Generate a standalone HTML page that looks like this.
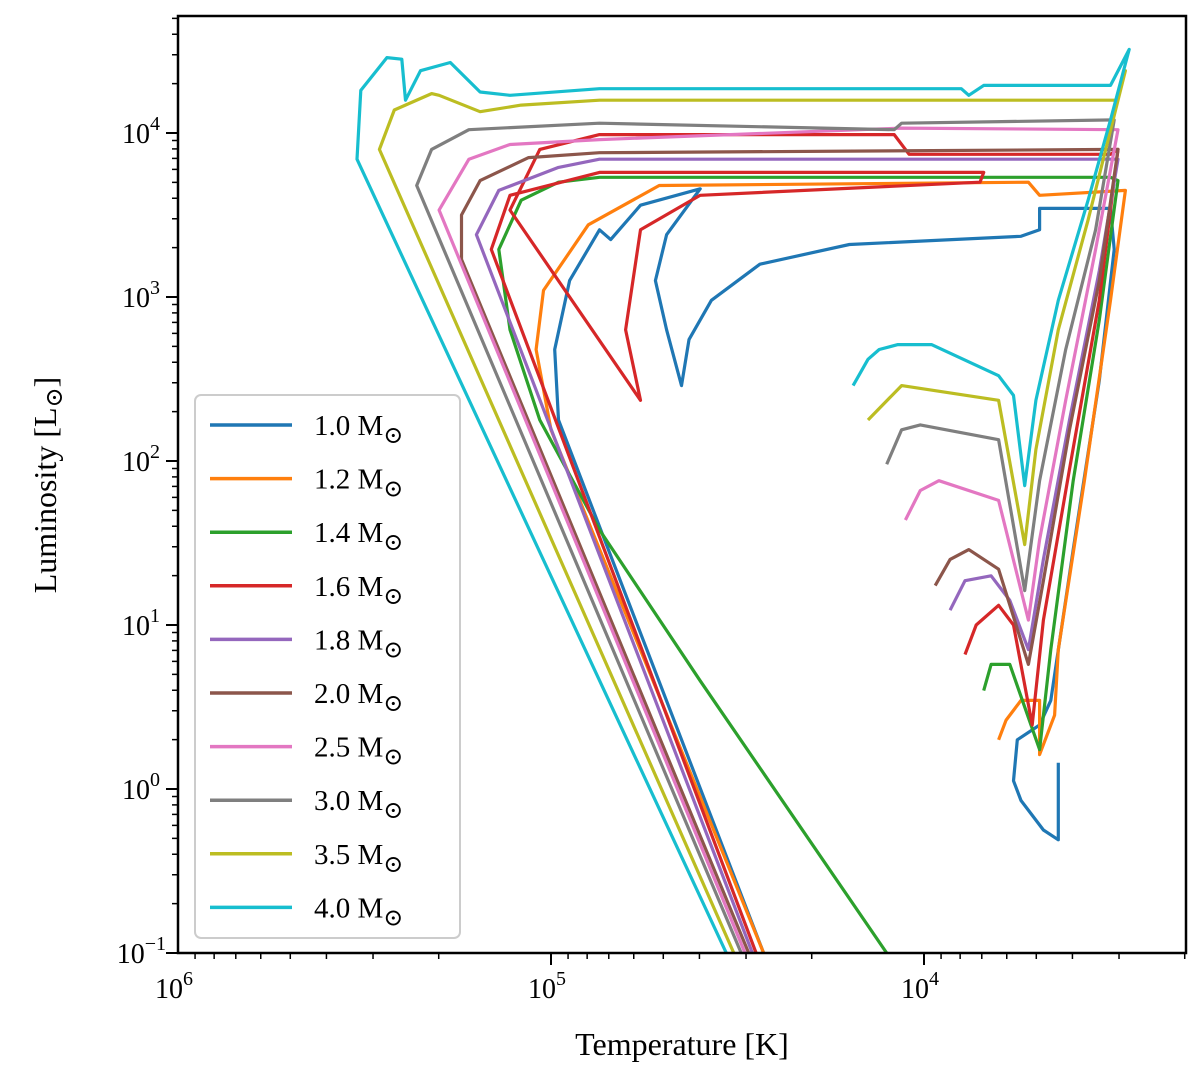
<!DOCTYPE html>
<html><head><meta charset="utf-8"><style>
body{margin:0;background:#fff}
svg text{font-family:"Liberation Serif","DejaVu Serif",serif;fill:#000}
</style></head><body>
<svg id="chart" width="1200" height="1083" viewBox="0 0 1200 1083" xmlns="http://www.w3.org/2000/svg">
<rect x="0" y="0" width="1200" height="1083" fill="#fff"/>
<g id="tracks"></g>
<g id="axes"></g>
<g id="legend"></g>
</svg>
<script>
const masses=["1.0","1.2","1.4","1.6","1.8","2.0","2.5","3.0","3.5","4.0"];
const colors=["#1f77b4","#ff7f0e","#2ca02c","#d62728","#9467bd","#8c564b","#e377c2","#7f7f7f","#bcbd22","#17becf"];
const xTicks=[6,5,4];
const yTicks=[-1,0,1,2,3,4];
// logT / logL per track
const T10=[3.64,3.64,3.68,3.74,3.76,3.75,3.69,3.66,3.60,3.53,3.49,3.50,3.69,3.69,3.74,4.20,4.44,4.57,4.63,4.65,4.69,4.72,4.69,4.60,4.76,4.84,4.87,4.95,4.99,4.98,4.43];
const L10=[0.16,-0.31,-0.25,-0.07,0.05,0.30,0.39,0.54,1.46,2.49,3.29,3.54,3.54,3.41,3.37,3.32,3.20,2.98,2.74,2.46,2.80,3.10,3.38,3.66,3.56,3.35,3.41,3.10,2.68,2.25,-1];
const T12=[3.80,3.78,3.74,3.69,3.69,3.65,3.64,3.57,3.50,3.46,3.69,3.72,4.71,4.90,5.02,5.04,5.00,4.43];
const L12=[0.30,0.42,0.54,0.54,0.21,0.45,0.85,1.88,2.98,3.65,3.62,3.70,3.68,3.44,3.04,2.68,2.19,-1];
const T14=[3.84,3.82,3.77,3.69,3.66,3.60,3.53,3.48,3.50,4.87,4.98,5.08,5.14,5.11,5.03,4.87,4.60,4.10];
const L14=[0.60,0.76,0.76,0.24,0.85,1.88,2.86,3.71,3.73,3.73,3.70,3.59,3.29,2.80,2.25,1.58,0.66,-1];
const T16=[3.89,3.86,3.80,3.76,3.71,3.68,3.61,3.53,3.48,3.50,4.04,4.08,4.87,5.03,5.11,4.76,4.80,4.76,4.60,3.85,3.84,4.87,5.11,5.16,4.45];
const L16=[0.82,1.00,1.12,1.00,0.39,1.03,1.95,2.98,3.90,3.87,3.87,3.99,3.99,3.90,3.53,2.37,2.80,3.41,3.62,3.70,3.76,3.76,3.62,3.29,-1];
const T18=[3.93,3.89,3.82,3.77,3.72,3.68,3.61,3.53,3.48,4.87,4.98,5.14,5.20,4.46];
const L18=[1.09,1.27,1.30,1.15,0.85,1.40,2.25,3.16,3.84,3.84,3.79,3.65,3.38,-1];
const T20=[3.97,3.93,3.88,3.80,3.72,3.68,3.61,3.53,3.48,4.87,5.06,5.19,5.24,5.24,4.47];
const L20=[1.24,1.40,1.46,1.34,0.76,1.27,2.19,3.10,3.90,3.88,3.85,3.71,3.50,3.23,-1];
const T25=[4.05,4.01,3.96,3.80,3.72,3.69,3.62,3.54,3.48,4.06,4.87,5.11,5.22,5.30,4.48];
const L25=[1.64,1.82,1.88,1.76,1.03,1.52,2.37,3.29,4.02,4.03,3.96,3.93,3.84,3.53,-1];
const T30=[4.10,4.06,4.01,3.80,3.73,3.69,3.62,3.54,3.49,4.06,4.08,4.87,5.22,5.32,5.36,4.49];
const L30=[1.98,2.19,2.22,2.13,1.21,1.88,2.68,3.41,4.08,4.06,4.02,4.06,4.02,3.90,3.68,-1];
const T35=[4.15,4.06,3.80,3.73,3.70,3.64,3.56,3.46,3.48,4.87,5.08,5.19,5.30,5.32,5.42,5.46,4.51];
const L35=[2.25,2.46,2.37,1.49,2.07,2.80,3.47,4.38,4.20,4.20,4.17,4.13,4.23,4.24,4.14,3.90,-1];
const T40=[4.19,4.15,4.12,4.07,3.98,3.80,3.76,3.73,3.70,3.64,3.56,3.50,3.45,3.50,3.84,3.88,3.90,4.87,5.11,5.19,5.27,5.35,5.39,5.40,5.44,5.51,5.52,4.53];
const L40=[2.46,2.62,2.68,2.71,2.71,2.52,2.40,1.85,2.37,2.98,3.59,4.08,4.51,4.29,4.29,4.23,4.27,4.27,4.23,4.25,4.43,4.38,4.20,4.45,4.46,4.26,3.84,-1];
const tracksT=[T10,T12,T14,T16,T18,T20,T25,T30,T35,T40];
const tracksL=[L10,L12,L14,L16,L18,L20,L25,L30,L35,L40];

const NS="http://www.w3.org/2000/svg";
const X0=178,X1=1186,Y0=16,Y1=953;
const tMax=6,tMin=6-(X1-X0)/373, lMin=-1, lMax=-1+(Y1-Y0)/164;
function sx(t){return X0+(tMax-t)/(tMax-tMin)*(X1-X0);}
function sy(l){return Y1-(l-lMin)/(lMax-lMin)*(Y1-Y0);}
function mk(tag,attrs,parent){const e=document.createElementNS(NS,tag);for(const k in attrs)e.setAttribute(k,attrs[k]);parent.appendChild(e);return e;}

const defs=mk('defs',{},document.getElementById('chart'));
const cp=mk('clipPath',{id:'clip'},defs);
mk('rect',{x:X0,y:Y0,width:X1-X0,height:Y1-Y0},cp);
const tg=document.getElementById('tracks');
tg.setAttribute('clip-path','url(#clip)');
tracksT.forEach((T,i)=>{
  const L=tracksL[i];
  const d=T.map((t,j)=>(j?'L':'M')+sx(t).toFixed(1)+','+sy(L[j]).toFixed(1)).join(' ');
  const p=mk('path',{d:d,fill:'none',stroke:colors[i],'stroke-width':3.2,'stroke-linejoin':'round'},tg);
  
  
});

const ax=document.getElementById('axes');
const frame=mk('rect',{x:X0,y:Y0,width:X1-X0,height:Y1-Y0,fill:'none',stroke:'#000','stroke-width':2.5},ax);


// x ticks
for(let dec=6;dec>=3;dec--){
  for(let k=1;k<10;k++){
    const t=dec-1+Math.log10(k);
    if(t>tMax+1e-9||t<tMin-1e-6)continue;
    const x=sx(t),major=(k===1);
    mk('line',{x1:x,x2:x,y1:Y1,y2:Y1+(major?12:6),stroke:'#000','stroke-width':major?2:1.5},ax);
  }
}
xTicks.forEach(t=>{
  const tx=mk('text',{x:sx(t)-4,y:Y1+45,'font-size':28,'text-anchor':'middle'},ax);
  
  
  tx.innerHTML='10<tspan dy="-13" font-size="20">'+t+'</tspan>';
});
// y ticks
for(let dec=-1;dec<=4;dec++){
  for(let k=1;k<10;k++){
    const l=dec+Math.log10(k);
    if(l>lMax)continue;
    const y=sy(l),major=(k===1);
    mk('line',{x1:X0,x2:X0-(major?12:6),y1:y,y2:y,stroke:'#000','stroke-width':major?2:1.5},ax);
  }
}
yTicks.forEach(l=>{
  const tx=mk('text',{x:X0-18,y:sy(l)+10,'font-size':28,'text-anchor':'end'},ax);
  
  
  tx.innerHTML='10<tspan dy="-13" font-size="20">'+(l<0?'\u2212'+(-l):l)+'</tspan><tspan dx="0" dy="13" font-size="1"> </tspan>';
  if(l<0)tx.setAttribute('x',X0-12);
});
const xt=mk('text',{x:682,y:1055,'font-size':32,'text-anchor':'middle'},ax);
xt.textContent='Temperature [K]';


const yt=mk('text',{x:0,y:0,'font-size':32,'text-anchor':'middle',transform:'translate(56,485) rotate(-90)'},ax);
yt.innerHTML='Luminosity [L<tspan dy="6" font-size="24">\u2299</tspan><tspan dy="-6">]</tspan>';



// legend
const lg=document.getElementById('legend');
const box=mk('rect',{x:195,y:395,width:265,height:543,rx:6,fill:'#fff','fill-opacity':0.85,stroke:'#ccc','stroke-width':2},lg);


masses.forEach((m,i)=>{
  const y=425+i*53.6;
  const g=mk('g',{},lg);
  
  
  mk('line',{x1:210,x2:292,y1:y,y2:y,stroke:colors[i],'stroke-width':3.5},g);
  const t=mk('text',{x:314,y:y+10,'font-size':29},g);
  t.innerHTML=m+' M<tspan dy="8" font-size="24">\u2299</tspan>';
});
</script>
</body></html>
